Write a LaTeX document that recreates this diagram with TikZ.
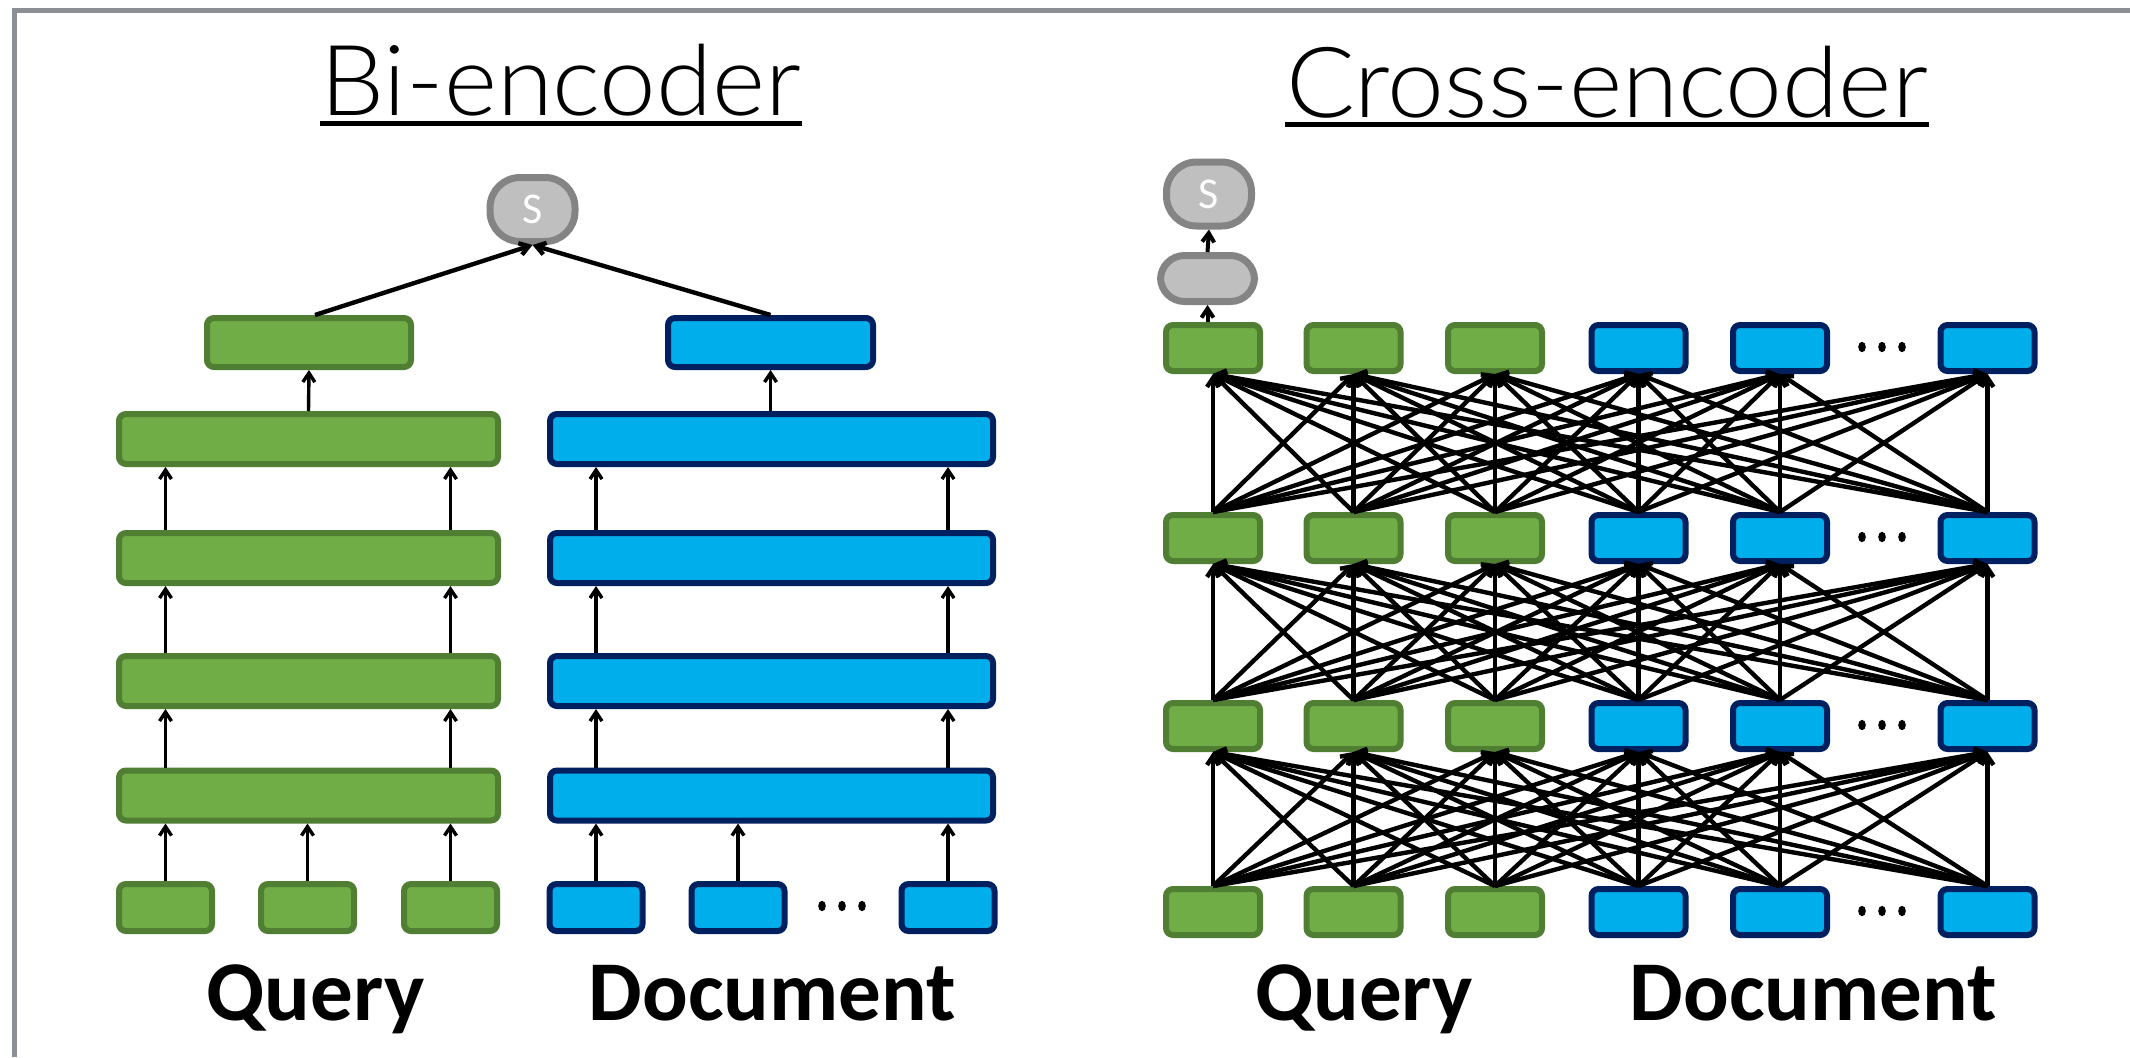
\documentclass[tikz,border=0pt]{standalone}
\usepackage{fontspec}
\usetikzlibrary{arrows.meta}
\newfontfamily\labelfont{Carlito}
\newfontfamily\titlefont{Lato Light}
\newlength{\pxu}\setlength{\pxu}{0.01cm}
\definecolor{qfill}{HTML}{70AD47}
\definecolor{qline}{HTML}{507E32}
\definecolor{dfill}{HTML}{00AEEC}
\definecolor{dline}{HTML}{002060}
\definecolor{sfill}{HTML}{BFBFBF}
\definecolor{sline}{HTML}{848484}
\definecolor{framegray}{HTML}{8C8F94}
\tikzset{
  box/.style={rectangle, rounded corners=7\pxu, line width=6\pxu, inner sep=0pt},
  qbox/.style={box, fill=qfill, draw=qline},
  dbox/.style={box, fill=dfill, draw=dline},
  small/.style={minimum width=93\pxu, minimum height=47\pxu},
  cell/.style={minimum width=94\pxu, minimum height=46\pxu},
  score/.style={rectangle, rounded corners=30\pxu, fill=sfill, draw=sline,
    line width=7\pxu, minimum width=85\pxu, minimum height=64\pxu, inner sep=0pt,
    text=white, font=\labelfont\fontsize{12.5}{12.5}\selectfont},
  pill/.style={rectangle, rounded corners=24\pxu, fill=sfill, draw=sline,
    line width=7\pxu, minimum width=94\pxu, minimum height=46\pxu, inner sep=0pt},
  arr/.style={line width=3.4\pxu, -{Straight Barb[length=0.09cm,width=0.12cm]}},
  link/.style={line width=4.4\pxu, -{Straight Barb[length=0.09cm,width=0.12cm]}},
  title/.style={font=\titlefont\fontsize{27.9}{30}\selectfont, inner sep=0pt, anchor=base},
  lab/.style={font=\labelfont\bfseries\fontsize{24.2}{26}\selectfont, inner sep=0pt, anchor=base},
  uline/.style={line width=5\pxu},
  dot/.style={fill=black}
}
\begin{document}
\begin{tikzpicture}[x=0.01cm, y=-0.01cm]
\useasboundingbox (0,0) rectangle (2130,1057);
\fill[white] (0,0) rectangle (2130,1057);
% frame
\draw[framegray, line width=4.5\pxu] (14.5,1057) -- (14.5,10.5) -- (2130,10.5);

% titles
\node[title] (tbi) at (561,115) {\scalebox{1.035}[1]{Bi-encoder}};
\draw[uline] ([yshift=-8\pxu]tbi.base west) -- ([yshift=-8\pxu]tbi.base east);
\node[title] (tcross) at (1607,117) {\scalebox{1.04}[1]{Cross-encoder}};
\draw[uline] ([yshift=-7\pxu]tcross.base west) -- ([yshift=-7\pxu]tcross.base east);

% ---------------- Bi-encoder ----------------
\node[score] (bs) at (532.5,209.5) {\raisebox{-3\pxu}{S}};
\node[qbox, minimum width=204\pxu, minimum height=49\pxu] (qt) at (309,342.5) {};
\node[dbox, minimum width=205\pxu, minimum height=49\pxu] (dt) at (770.5,342.5) {};
\foreach \n/\y in {4/439,3/558,2/681,1/795.5}{
  \node[qbox, minimum width=379\pxu, minimum height=50\pxu] (qw\n) at (308.5,\y) {};
  \node[dbox, minimum width=443\pxu, minimum height=50\pxu] (dw\n) at (771.5,\y) {};
}
\node[qbox, small] (qb1) at (165.5,907.5) {};
\node[qbox, small] (qb2) at (307.5,907.5) {};
\node[qbox, small] (qb3) at (450.5,907.5) {};
\node[dbox, small] (db1) at (596,907.5) {};
\node[dbox, small] (db2) at (738,907.5) {};
\node[dbox, small] (db3) at (948,907.5) {};
\foreach \x in {822,842,862}{ \fill[dot] (\x,906) ellipse (3.8 and 5.2); }

% token inputs into the first layer
\foreach \k in {1,2,3}{
  \draw[arr] (qb\k.north) -- (qb\k.north |- qw1.south);
  \draw[arr] (db\k.north) -- (db\k.north |- dw1.south);
}
% layer to layer
\foreach \a/\b in {1/2,2/3,3/4}{
  \foreach \k in {1,3}{
    \draw[arr] (qb\k.north |- qw\a.north) -- (qb\k.north |- qw\b.south);
    \draw[arr] (db\k.north |- dw\a.north) -- (db\k.north |- dw\b.south);
  }
}
\draw[arr] (qw4.north) -- (qt.south);
\draw[arr] (dt.south |- dw4.north) -- (dt.south);
\draw[link] ([xshift=6\pxu]qt.north) -- (bs.south);
\draw[link] (dt.north) -- (bs.south);

\node[lab] (bq) at (315.5,1020) {Query};
\node[lab] (bd) at (772.5,1020) {Document};

% ---------------- Cross-encoder ----------------
\foreach \r/\y in {1/912,2/726,3/538,4/348}{
  \foreach \i/\x in {1/1213,2/1353.5,3/1495}{
    \node[qbox, cell] (c\r\i) at (\x,\y) {};
  }
  \foreach \i/\x in {4/1638.5,5/1780,6/1987.5}{
    \node[dbox, cell] (c\r\i) at (\x,\y) {};
  }
  \foreach \x in {1862,1882,1902}{ \fill[dot] (\x,\y-1) ellipse (3.8 and 5.2); }
}
% every token attends to every token of the next layer
\foreach \r [evaluate=\r as \s using int(\r+1)] in {1,2,3}{
  \foreach \i in {1,...,6}{
    \foreach \j in {1,...,6}{
      \draw[link] (c\r\i.north) -- (c\s\j.south);
    }
  }
}
\node[pill] (cp) at (1207.5,278.5) {};
\node[score] (cs) at (1209,194) {\raisebox{-3\pxu}{S}};
\draw[arr, line width=4\pxu] (cp.south |- c41.north) -- (cp.south);
\draw[arr, line width=4\pxu] (cp.north) -- (cs.south);

\node[lab] (cq) at (1364,1020) {Query};
\node[lab] (cd) at (1813.5,1020) {Document};
\end{tikzpicture}
\end{document}
